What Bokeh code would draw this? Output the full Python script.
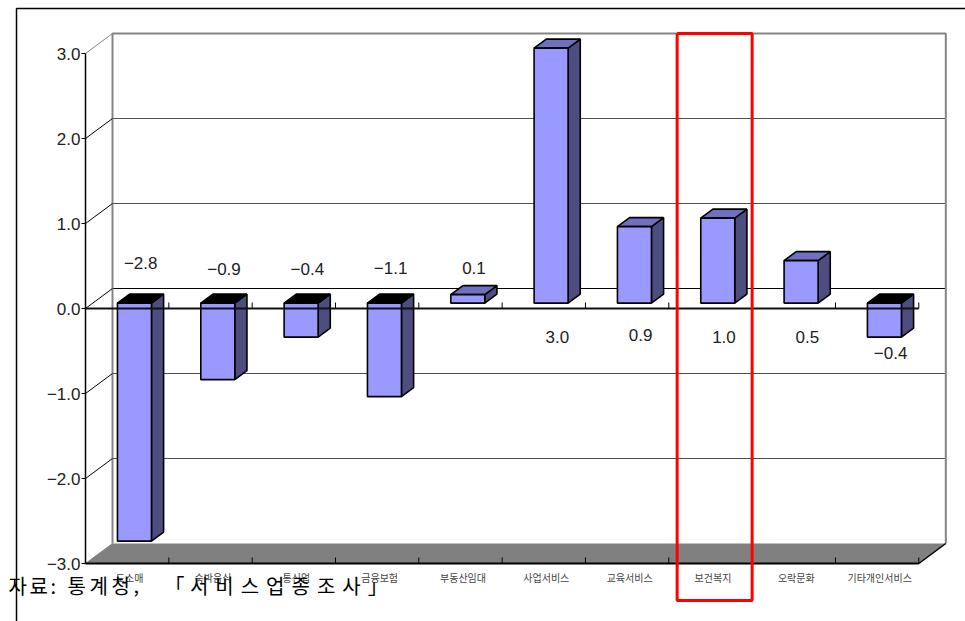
from bokeh.plotting import figure
from bokeh.models import Range1d
from bokeh.core.properties import value
from bokeh.embed import file_html
from bokeh.resources import INLINE

# ---- data -------------------------------------------------------------
categories = ["도소매", "숙박음식", "통신업", "금융보험", "부동산임대",
              "사업서비스", "교육서비스", "보건복지", "오락문화", "기타개인서비스"]
values = [-2.8, -0.9, -0.4, -1.1, 0.1, 3.0, 0.9, 1.0, 0.5, -0.4]
tick_values = [3, 2, 1, 0, -1, -2, -3]
tick_labels = ["3.0", "2.0", "1.0", "0.0", "\u22121.0", "\u22122.0", "\u22123.0"]
highlight = "보건복지"
source_note = "자료: 통계청, 「서비스업종조사」"

# ---- layout (pixel geometry of the pseudo-3D box) ---------------------
W, H = 965, 621
X0_PX, Y0_PX = 85, 308          # front-left corner of the value axis at 0
CAT_PX, UNIT_PX = 83.33, 85.0   # px per category / per value unit
DX = 27 / CAT_PX                # depth shift (data units) front -> back
DY = 20 / UNIT_PX
YMIN, YMAX = min(tick_values), max(tick_values)
N = len(categories)
BAR_FRONT, BAR_BACK = 0.27, 0.72   # bar depth fractions
HALF_W = 17 / CAT_PX
# value-label vertical placement (value units, front plane)
label_y = [0.53, 0.47, 0.47, 0.48, 0.48, -0.34, -0.31, -0.34, -0.34, -0.52]
# source note: spaced-out lettering, start pixel and advance per word
note_word_start = [8, 67, 164]
note_word_advance = [21, 22, 25.4]


def px_x(px):
    return (px - X0_PX) / CAT_PX


def px_y(py):
    return (Y0_PX - py) / UNIT_PX


def pt(u, v, d):
    return u + d * DX, v + d * DY


def seg(p, a, b, **kw):
    p.line([a[0], b[0]], [a[1], b[1]], **kw)


p = figure(width=W, height=H, output_backend="svg", toolbar_location=None,
           x_range=Range1d(px_x(0), px_x(W)), y_range=Range1d(px_y(H), px_y(0)),
           min_border=0, x_axis_type=None, y_axis_type=None)
p.grid.visible = False
p.outline_line_color = None
p.background_fill_color = "white"

GRAY = "#858585"

# outer frame
p.line([px_x(16), px_x(16), px_x(W + 10)], [px_y(H + 10), px_y(8), px_y(8)],
       line_color="black", line_width=1.5)

# back wall gridlines
for t in tick_values:
    if t in (YMIN, YMAX):
        continue
    seg(p, pt(0, t, 1), pt(N, t, 1),
        line_color="black" if t == 0 else "#505050", line_width=1.2 if t == 0 else 1)

# floor
fx, fy = zip(pt(0, YMIN, 0), pt(N, YMIN, 0), pt(N, YMIN, 1), pt(0, YMIN, 1))
p.patch(list(fx), list(fy), fill_color="#808080", line_color=None)

# back wall border
bx, by = zip(pt(0, YMIN, 1), pt(0, YMAX, 1), pt(N, YMAX, 1), pt(N, YMIN, 1))
p.line(list(bx), list(by), line_color=GRAY, line_width=2)

# depth lines from axis ticks to the wall, plus tick marks and labels
for t, lab in zip(tick_values, tick_labels):
    seg(p, pt(0, t, 0), pt(0, t, 1),
        line_color=GRAY if t in (YMIN, YMAX) else "black", line_width=1)
    seg(p, (px_x(X0_PX - 4), t), (0, t), line_color="black", line_width=1)
p.text(x=[px_x(X0_PX - 5)] * len(tick_values), y=tick_values, text=tick_labels,
       text_align="right", text_baseline="middle", text_font_size="17px",
       text_font=value("Liberation Sans"), text_color="#222222")

# value axis line
seg(p, pt(0, YMIN, 0), pt(0, YMAX, 0), line_color="black", line_width=1.5)

# floor front edge and right edge
seg(p, pt(0, YMIN, 0), pt(N, YMIN, 0), line_color="black", line_width=2)
seg(p, pt(N, YMIN, 0), pt(N, YMIN, 1), line_color="black", line_width=1.5)
for i in range(1, N + 1):
    seg(p, (i, YMIN), (i, YMIN + 6 / UNIT_PX), line_color="black", line_width=1)

# bars
fronts_x, fronts_y, sides_x, sides_y, tops_x, tops_y, top_cols = [], [], [], [], [], [], []
for i, v in enumerate(values):
    c = i + 0.5
    l, r = c - HALF_W, c + HALF_W
    fr = [pt(l, 0, BAR_FRONT), pt(r, 0, BAR_FRONT), pt(r, v, BAR_FRONT), pt(l, v, BAR_FRONT)]
    sd = [pt(r, 0, BAR_FRONT), pt(r, v, BAR_FRONT), pt(r, v, BAR_BACK), pt(r, 0, BAR_BACK)]
    tv = max(v, 0)
    tp = [pt(l, tv, BAR_FRONT), pt(r, tv, BAR_FRONT), pt(r, tv, BAR_BACK), pt(l, tv, BAR_BACK)]
    for poly, xs, ys in ((fr, fronts_x, fronts_y), (sd, sides_x, sides_y), (tp, tops_x, tops_y)):
        xs.append([q[0] for q in poly])
        ys.append([q[1] for q in poly])
    top_cols.append("#7070C0" if v > 0 else "#000000")

p.patches(sides_x, sides_y, fill_color="#4D4D80", line_color="black", line_width=1.6)
p.patches(tops_x, tops_y, fill_color=top_cols, line_color="black", line_width=1.6)
p.patches(fronts_x, fronts_y, fill_color="#9999FF", line_color="black", line_width=1.6)

# front zero line with category ticks
seg(p, pt(0, 0, 0), pt(N, 0, 0), line_color="#111111", line_width=2)
for i in range(1, N + 1):
    seg(p, (i, 0), (i, 6 / UNIT_PX), line_color="black", line_width=1)

# value labels
val_text = [f"{v:.1f}".replace("-", "\u2212") for v in values]
p.text(x=[i + 0.5 + 0.5 * DX for i in range(N)], y=label_y, text=val_text,
       text_align="center", text_baseline="middle", text_font_size="17px",
       text_font=value("Liberation Sans"), text_color="#222222")

# category labels
p.text(x=[i + 0.53 for i in range(N)], y=[px_y(577)] * N, text=categories,
       text_align="center", text_baseline="middle", text_font_size="10px",
       text_font=value("Noto Sans CJK KR"), text_color="#444444")

# highlight box around one category
k = categories.index(highlight)
p.line([k + 0.1, k + 1.0, k + 1.0, k + 0.1, k + 0.1],
       [YMAX + DY, YMAX + DY, px_y(600), px_y(600), YMAX + DY],
       line_color="#FF0000", line_width=3)

# source note, laid out glyph by glyph for wide letter spacing
note_chars, note_x = [], []
for word, start, adv in zip(source_note.split(" "), note_word_start, note_word_advance):
    pos = start
    for ch in word:
        note_chars.append(ch)
        note_x.append(px_x(pos))
        pos += adv * (0.45 if ch in ":," else 1.0)
p.text(x=note_x, y=[px_y(585)] * len(note_chars), text=note_chars, text_align="left",
       text_baseline="middle", text_font_size="20px",
       text_font=value("Noto Sans CJK KR"), text_color="black")

open("out.html", "w").write(file_html(p, INLINE))
